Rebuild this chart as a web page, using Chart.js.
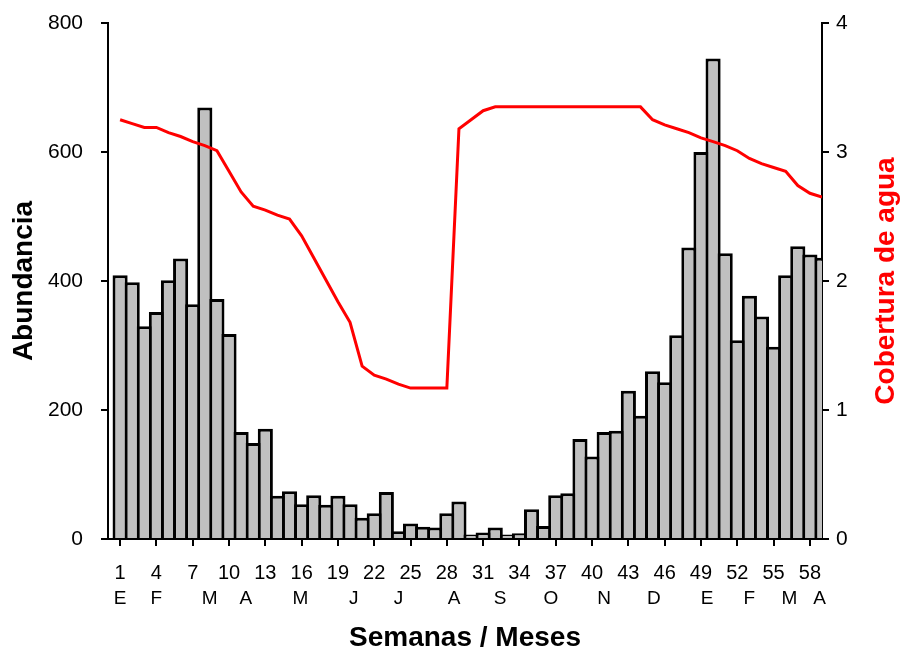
<!DOCTYPE html>
<html>
<head>
<meta charset="utf-8">
<script src="https://cdn.jsdelivr.net/npm/chart.js@4.4.1/dist/chart.umd.min.js"></script>
<style>
  body { margin: 0; background: #fff; }
  #grafico { display: block; }
</style>
</head>
<body>
<canvas id="grafico" width="904" height="652"></canvas>
<script>
// semanas 1..59 (enero a abril del año siguiente)
const semanas = [1, 2, 3, 4, 5, 6, 7, 8, 9, 10, 11, 12, 13, 14, 15, 16, 17, 18, 19, 20,
    21, 22, 23, 24, 25, 26, 27, 28, 29, 30, 31, 32, 33, 34, 35, 36, 37, 38, 39, 40,
    41, 42, 43, 44, 45, 46, 47, 48, 49, 50, 51, 52, 53, 54, 55, 56, 57, 58, 59];

const abundancia = [409, 398, 330, 352, 401, 435, 364, 669, 372, 318,
    166, 149, 171, 67, 74, 54, 68, 53, 67, 54,
    33, 40, 73, 12, 24, 19, 18, 40, 58, 7,
    10, 18, 7, 9, 46, 20, 68, 71, 155, 128,
    166, 168, 230, 191, 260, 243, 316, 452, 600, 745,
    443, 308, 377, 345, 298, 409, 454, 441, 436];

const cobertura = [3.25, 3.22, 3.19, 3.19, 3.15, 3.12, 3.08, 3.05, 3.01, 2.85,
    2.69, 2.58, 2.55, 2.51, 2.48, 2.35, 2.18, 2.01, 1.84, 1.68,
    1.34, 1.27, 1.24, 1.20, 1.17, 1.17, 1.17, 1.17, 3.18, 3.25,
    3.32, 3.35, 3.35, 3.35, 3.35, 3.35, 3.35, 3.35, 3.35, 3.35,
    3.35, 3.35, 3.35, 3.35, 3.25, 3.21, 3.18, 3.15, 3.11, 3.08,
    3.05, 3.01, 2.95, 2.91, 2.88, 2.85, 2.74, 2.68, 2.65];

// etiquetas del eje x
const ticksSemanas = [1, 4, 7, 10, 13, 16, 19, 22, 25, 28, 31, 34, 37, 40, 43, 46, 49, 52, 55, 58];
const posMeses = [1, 4, 8.4, 11.4, 15.9, 20.3, 24, 28.6, 32.4, 36.6, 41, 45.1, 49.5, 53, 56.3, 58.8];
const meses = ['E', 'F', 'M', 'A', 'M', 'J', 'J', 'A', 'S', 'O', 'N', 'D', 'E', 'F', 'M', 'A'];

const fuente = "'Liberation Sans', Arial, sans-serif";

// titulo del eje derecho, leido de abajo hacia arriba como el izquierdo
const tituloDerecho = {
    id: 'tituloDerecho',
    afterDraw(chart) {
        const ctx = chart.ctx;
        const area = chart.chartArea;
        ctx.save();
        ctx.translate(886, (area.top + area.bottom) / 2);
        ctx.rotate(-Math.PI / 2);
        ctx.font = "bold 28px " + fuente;
        ctx.fillStyle = '#FF0000';
        ctx.textAlign = 'center';
        ctx.textBaseline = 'middle';
        ctx.fillText('Cobertura de agua', 0, 0);
        ctx.restore();
    }
};

const ejeNegro = {
    offset: false,
    grid: { offset: false, drawOnChartArea: false, drawTicks: true, tickLength: 7, color: '#000', lineWidth: 2 },
    border: { display: true, color: '#000', width: 2 }
};

// ancho fijo para los ejes verticales, sin el margen extra de las etiquetas
const anchoFijo = (w) => (scale) => {
    scale.width = w;
    scale.paddingTop = 0;
    scale.paddingBottom = 0;
};

new Chart(document.getElementById('grafico'), {
    type: 'bar',
    data: {
        datasets: [
            {
                type: 'line',
                label: 'Cobertura de agua',
                data: semanas.map((s, i) => ({ x: s, y: cobertura[i] })),
                yAxisID: 'y1',
                xAxisID: 'x',
                borderColor: '#FF0000',
                borderWidth: 3,
                pointRadius: 0,
                tension: 0,
                order: 0
            },
            {
                label: 'Abundancia',
                data: semanas.map((s, i) => ({ x: s, y: abundancia[i] })),
                yAxisID: 'y',
                xAxisID: 'x',
                backgroundColor: '#C0C0C0',
                borderColor: '#000',
                borderWidth: 3,
                barPercentage: 1.25,
                categoryPercentage: 1,
                clip: 0,
                order: 1
            }
        ]
    },
    options: {
        responsive: false,
        animation: false,
        devicePixelRatio: 1,
        layout: { padding: { top: 23, left: 0, right: 0, bottom: 0 } },
        plugins: {
            legend: { display: false },
            tooltip: { enabled: false }
        },
        scales: {
            x: {
                type: 'linear',
                position: 'bottom',
                min: 0,
                max: 59,
                ...ejeNegro,
                afterBuildTicks: (scale) => {
                    scale.ticks = ticksSemanas.map(v => ({ value: v }));
                },
                afterFit: (scale) => { scale.height = 48; },
                ticks: {
                    autoSkip: false,
                    maxRotation: 0,
                    color: '#000',
                    padding: 15,
                    font: { family: fuente, size: 20 },
                    callback: (v) => String(v)
                }
            },
            x2: {
                type: 'linear',
                position: 'bottom',
                min: 0,
                max: 59,
                offset: false,
                grid: { display: false, drawTicks: false, offset: false },
                border: { display: false },
                afterBuildTicks: (scale) => {
                    scale.ticks = posMeses.map(v => ({ value: v }));
                },
                afterFit: (scale) => { scale.height = 65; },
                ticks: {
                    autoSkip: false,
                    maxRotation: 0,
                    color: '#000',
                    padding: 0,
                    font: { family: fuente, size: 19 },
                    callback: (v, i) => meses[i]
                },
                title: {
                    display: true,
                    text: 'Semanas / Meses',
                    color: '#000',
                    font: { family: fuente, size: 28, weight: 'bold', lineHeight: 1 },
                    padding: { top: 0, bottom: 0 }
                }
            },
            y: {
                position: 'left',
                min: 0,
                max: 800,
                ...ejeNegro,
                afterFit: anchoFijo(108),
                ticks: {
                    stepSize: 200,
                    color: '#000',
                    padding: 18,
                    font: { family: fuente, size: 21 }
                },
                title: {
                    display: true,
                    text: 'Abundancia',
                    color: '#000',
                    font: { family: fuente, size: 28, weight: 'bold', lineHeight: 1 },
                    padding: { top: 10, bottom: 0 }
                }
            },
            y1: {
                position: 'right',
                min: 0,
                max: 4,
                ...ejeNegro,
                afterFit: anchoFijo(82),
                ticks: {
                    stepSize: 1,
                    color: '#000',
                    padding: 7,
                    font: { family: fuente, size: 21 }
                }
            }
        }
    },
    plugins: [tituloDerecho]
});
</script>
</body>
</html>
